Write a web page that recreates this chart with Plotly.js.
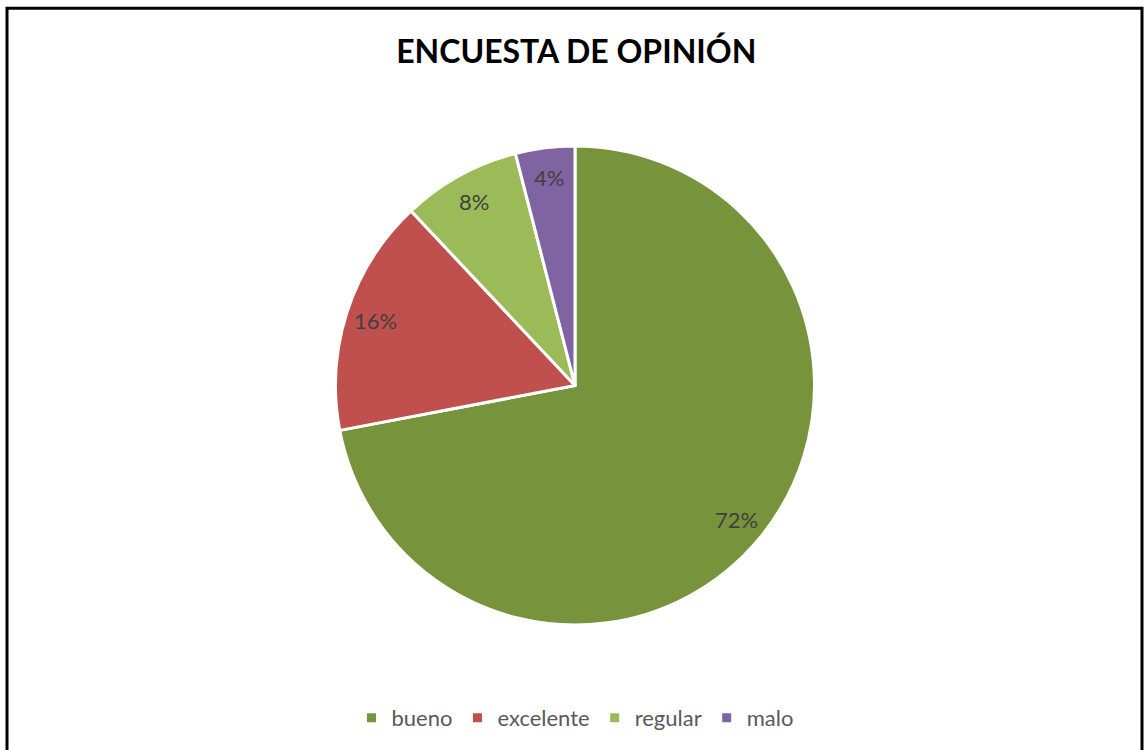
<!DOCTYPE html>
<html>
<head>
<meta charset="utf-8">
<script src="https://cdn.plot.ly/plotly-3.0.1.min.js"></script>
<style>
html,body{margin:0;padding:0;background:#fff;}
#chart{width:1144px;height:750px;}
</style>
</head>
<body>
<div id="chart"></div>
<script>
const categories = ["bueno", "excelente", "regular", "malo"];
const values = [18, 4, 2, 1];
const colors = ["#77933C", "#C0504D", "#9BBB59", "#8064A2"];

const FONT = "Lato, 'Open Sans', sans-serif";

const trace = {
  type: "pie",
  labels: categories,
  values: values,
  sort: false,
  direction: "clockwise",
  rotation: 0,
  marker: {colors: colors, line: {color: "#ffffff", width: 3}},
  textinfo: "none",
  hoverinfo: "none"
};

// Data labels placed like the original (at ~0.875 of the radius, slice mid-angle)
const total = values.reduce((a, b) => a + b, 0);
const annotations = [];
let cum = 0;
values.forEach((v, i) => {
  const mid = (cum + v / 2) / total * 2 * Math.PI;
  cum += v;
  const r = 0.5 * 0.875;
  annotations.push({
    xref: "paper", yref: "paper",
    x: 0.5 + r * Math.sin(mid), y: 0.5 + r * Math.cos(mid),
    text: Math.round(v / total * 100) + "%",
    showarrow: false, xanchor: "center", yanchor: "middle",
    font: {family: FONT, size: 22, color: "#404040"}
  });
});

const layout = {
  width: 1144,
  height: 750,
  margin: {l: 335, r: 329, t: 146, b: 124},
  paper_bgcolor: "#ffffff",
  title: {
    text: "<b>ENCUESTA DE OPINIÓN</b>",
    font: {family: FONT, size: 32, color: "#000000"},
    x: 575/1144, xanchor: "center", xref: "paper",
    y: 1 - 52/750, yref: "container", yanchor: "middle"
  },
  showlegend: true,
  legend: {
    orientation: "h",
    x: 0.5, xanchor: "center",
    y: (626 - 718) / 480, yanchor: "middle",
    font: {family: FONT, size: 22, color: "#595959"},
    itemwidth: 30,
    traceorder: "normal"
  },
  annotations: annotations,
  shapes: [{
    type: "rect", xref: "paper", yref: "paper",
    x0: (7 - 335) / 480, x1: (1142 - 335) / 480,
    y0: (626 - 760) / 480, y1: (626 - 8) / 480,
    line: {color: "#000000", width: 3}, fillcolor: "rgba(0,0,0,0)", layer: "above"
  }]
};

Plotly.newPlot("chart", [trace], layout, {displayModeBar: false, staticPlot: true});
</script>
</body>
</html>
